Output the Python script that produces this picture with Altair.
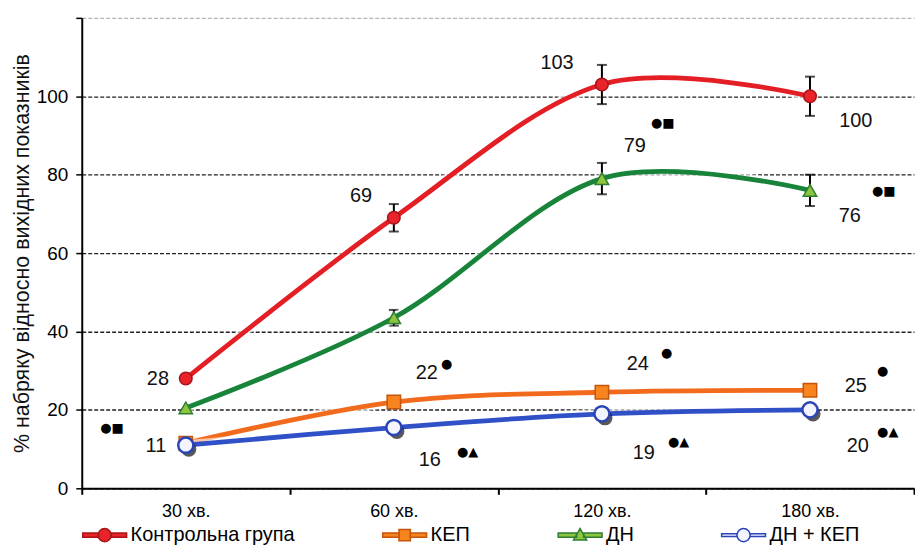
import altair as alt
import pandas as pd

# ---------------- data ----------------
times = ["30 хв.", "60 хв.", "120 хв.", "180 хв."]
series_names = ["Контрольна група", "КЕП", "ДН", "ДН + КЕП"]

control = [28, 69, 103, 100]
kep = [11.5, 22, 24.5, 25]
dn = [20.5, 43.5, 79, 76]
dn_kep = [11, 15.5, 19, 20]

control_err = [0, 3.5, 5, 5]
kep_err = [0, 0, 0, 0]
dn_err = [0, 2, 4, 4]
dn_kep_err = [0, 0, 0, 0]

# annotations: text, time category, value position, pixel offset
ann_text = ["28", "11", "●■", "69", "22", "●", "16", "●▲",
            "103", "●■", "79", "24", "●", "19", "●▲",
            "100", "●■", "76", "25", "●", "20", "●▲"]
ann_time = ["30 хв.", "30 хв.", "30 хв.", "60 хв.", "60 хв.", "60 хв.", "60 хв.", "60 хв.",
            "120 хв.", "120 хв.", "120 хв.", "120 хв.", "120 хв.", "120 хв.", "120 хв.",
            "180 хв.", "180 хв.", "180 хв.", "180 хв.", "180 хв.", "180 хв.", "180 хв."]
ann_y = [28, 10.7, 15.5, 74.5, 29.5, 31.8, 7.1, 9.2,
         108.4, 93.1, 87.3, 31.8, 34.4, 8.9, 11.7,
         93.6, 75.8, 69.5, 26, 29.8, 10.7, 14.3]
ann_dx = [-28, -30, -74, -33, 33, 53, 36, 74,
          -45, 61, 33, 36, 65, 42, 77,
          46, 74, 40, 46, 73, 48, 78]

# ---------------- styles ----------------
W, H = 835, 472
band = W / len(times)

line_colors = {"Контрольна група": "#E31E24", "КЕП": "#F26B1D", "ДН": "#17843A", "ДН + КЕП": "#3050C8"}
fills = {"Контрольна група": "#E8232A", "КЕП": "#F7841F", "ДН": "#8CC63F", "ДН + КЕП": "#F4F4FF"}
strokes = {"Контрольна група": "#A8141A", "КЕП": "#C4560A", "ДН": "#2E7D32", "ДН + КЕП": "#2A44B8"}
shapes = {"Контрольна група": "circle", "КЕП": "square", "ДН": "triangle-up", "ДН + КЕП": "circle"}
sizes = {"Контрольна група": 160, "КЕП": 180, "ДН": 180, "ДН + КЕП": 230}

circ = "M-0.3,0A0.3,0.3,0,1,1,0.3,0A0.3,0.3,0,1,1,-0.3,0Z"
legend_paths = [
    "M-1,-0.1H-0.28V0.1H-1Z M0.28,-0.1H1V0.1H0.28Z " + circ,
    "M-1,-0.1H-0.25V0.1H-1Z M0.25,-0.1H1V0.1H0.25Z M-0.26,-0.26H0.26V0.26H-0.26Z",
    "M-1,-0.1H-0.16V0.1H-1Z M0.16,-0.1H1V0.1H0.16Z M0,-0.3L0.3,0.22L-0.3,0.22Z",
    "M-1,-0.06H-0.3V0.06H-1Z M0.3,-0.06H1V0.06H0.3Z " + circ,
]

rows = []
for name, vals, errs in [("Контрольна група", control, control_err), ("КЕП", kep, kep_err),
                         ("ДН", dn, dn_err), ("ДН + КЕП", dn_kep, dn_kep_err)]:
    for t, v, e in zip(times, vals, errs):
        rows.append({"series": name, "time": t, "value": v, "lo": v - e, "hi": v + e, "err": e})
df = pd.DataFrame(rows)

ann = pd.DataFrame({"text": ann_text, "time": ann_time, "ay": ann_y, "dx": ann_dx})
ann["pos"] = ann["time"].map({t: i for i, t in enumerate(times)}) + ann["dx"] / band
ann["sym"] = ann["text"].str.contains("●")

x_enc = alt.X("time:N", sort=times, title=None,
              scale=alt.Scale(type="band", paddingInner=0, paddingOuter=0),
              axis=alt.Axis(tickBand="extent", labelFontSize=18, labelPadding=8, labelColor="black",
                            domainColor="black", domainWidth=2, tickColor="black", tickWidth=2,
                            tickSize=6, labelAngle=0, grid=False))
y_scale = alt.Scale(domain=[0, 120], nice=False)
y_enc = alt.Y("value:Q", scale=y_scale,
              title="% набряку відносно вихідних показників",
              axis=alt.Axis(values=[0, 20, 40, 60, 80, 100, 120],
                            labelExpr="datum.value == 120 ? '' : datum.label",
                            grid=True, gridDash=[4, 2], gridWidth=1.4,
                            gridColor={"condition": {"test": "datum.value === 120", "value": "#b5b5b5"},
                                       "value": "#222222"},
                            domainColor="black", domainWidth=2, tickColor="black", tickWidth=1.5,
                            tickSize=6, labelFontSize=19, labelColor="black", labelPadding=8,
                            titleFontSize=21.5, titleFontWeight="normal", titleColor="#111111",
                            titlePadding=3))

base = alt.Chart(df)
layers = []
# error bars
for name in ["Контрольна група", "ДН"]:
    sub = base.transform_filter(alt.datum.series == name).transform_filter(alt.datum.err > 0)
    layers.append(sub.mark_rule(color="black", strokeWidth=2).encode(
        x=x_enc, y=alt.Y("lo:Q", scale=y_scale), y2="hi:Q"))
    layers.append(sub.mark_tick(color="black", thickness=2, size=10).encode(
        x=x_enc, y=alt.Y("lo:Q", scale=y_scale)))
    layers.append(sub.mark_tick(color="black", thickness=2, size=10).encode(
        x=x_enc, y=alt.Y("hi:Q", scale=y_scale)))

# lines
for name in ["КЕП", "ДН + КЕП", "ДН", "Контрольна група"]:
    sub = base.transform_filter(alt.datum.series == name)
    layers.append(sub.mark_line(color="white", strokeWidth=10, opacity=0.6,
                                interpolate="cardinal").encode(x=x_enc, y=y_enc))
    layers.append(sub.mark_line(color=line_colors[name], strokeWidth=4.8,
                                interpolate="cardinal").encode(x=x_enc, y=y_enc))

# markers
for name in ["КЕП", "ДН + КЕП", "ДН", "Контрольна група"]:
    sub = base.transform_filter(alt.datum.series == name)
    if name == "ДН + КЕП":
        layers.append(sub.mark_point(filled=True, color="#111111", shape="circle",
                                     size=sizes[name], xOffset=3, yOffset=4).encode(x=x_enc, y=y_enc))
    layers.append(sub.mark_point(filled=True, fill=fills[name], stroke=strokes[name],
                                 strokeWidth=2.5 if name == "ДН + КЕП" else 1.5,
                                 shape=shapes[name], size=sizes[name], opacity=1).encode(x=x_enc, y=y_enc))

# legend-only layer
leg = alt.Legend(title=None, orient="none", legendX=0, legendY=496, direction="horizontal",
                 columns=4, columnPadding=85, symbolSize=1936, symbolStrokeWidth=1.5,
                 labelFontSize=20, labelLimit=400, labelColor="black", labelOffset=3,
                 symbolOpacity=1, padding=0)
layers.append(base.mark_point(filled=True, opacity=0).encode(
    x=x_enc, y=y_enc,
    shape=alt.Shape("series:N", scale=alt.Scale(domain=series_names, range=legend_paths), legend=leg),
    fill=alt.Fill("series:N", scale=alt.Scale(domain=series_names, range=[fills[s] for s in series_names]), legend=leg),
    stroke=alt.Stroke("series:N", scale=alt.Scale(domain=series_names, range=[strokes[s] for s in series_names]), legend=leg),
))

main = alt.layer(*layers)

ann_x = alt.X("pos:Q", scale=alt.Scale(domain=[-0.5, len(times) - 0.5], nice=False, zero=False), axis=None)
ann_base = alt.Chart(ann)
num_layer = ann_base.transform_filter("!datum.sym").mark_text(fontSize=20, color="#111111").encode(
    x=ann_x, y=alt.Y("ay:Q", scale=y_scale), text="text:N")
sym_layer = ann_base.transform_filter("datum.sym").mark_text(fontSize=13, color="black",
                                                             font="DejaVu Sans").encode(
    x=ann_x, y=alt.Y("ay:Q", scale=y_scale), text="text:N")

chart = alt.layer(main, num_layer, sym_layer).resolve_scale(x="independent").properties(
    width=W, height=H, padding={"left": 3, "top": 8, "right": 0, "bottom": 0}
).configure(font="Liberation Sans").configure_view(stroke=None)

chart.save("out.html", embed_options={"renderer": "svg", "actions": False})
